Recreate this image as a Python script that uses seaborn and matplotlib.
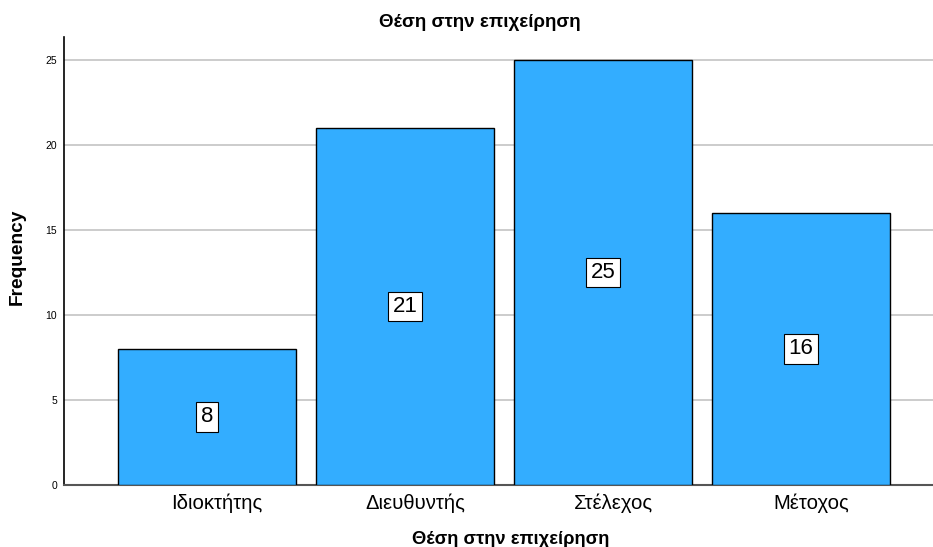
import matplotlib
matplotlib.use("Agg")
import matplotlib.pyplot as plt
import matplotlib.transforms as mtransforms
import seaborn as sns
import pandas as pd

categories = ["Ιδιοκτήτης", "Διευθυντής", "Στέλεχος", "Μέτοχος"]
counts = [8, 21, 25, 16]
y_ticks = [0, 5, 10, 15, 20, 25]

df = pd.DataFrame({"position": categories, "frequency": counts})

sns.set_style("white")
plt.rcParams["font.family"] = ["Liberation Sans", "DejaVu Sans"]
plt.rcParams.update({"text.color": "black", "axes.labelcolor": "black",
                     "xtick.color": "black", "ytick.color": "black"})

fig = plt.figure(figsize=(9.33, 5.47), dpi=100)
ax = fig.add_axes([64 / 933, 62 / 547, 869 / 933, 448 / 547])

sns.barplot(data=df, x="position", y="frequency", order=categories,
            color="#33adff", saturation=1, width=0.9,
            edgecolor="black", linewidth=1.0, ax=ax, zorder=3)

ax.set_ylim(0, 26.35)
ax.set_xlim(-0.722, 3.667)
ax.set_yticks(y_ticks)
ax.yaxis.grid(True, color="#c8c8c8", linewidth=1.3, zorder=0)
ax.set_axisbelow(True)

for spine in ["top", "right"]:
    ax.spines[spine].set_visible(False)
ax.spines["left"].set_color("black")
ax.spines["left"].set_linewidth(1.2)
ax.spines["bottom"].set_color("#555555")
ax.spines["bottom"].set_linewidth(1.5)

ax.tick_params(axis="y", length=0, labelsize=7.5, pad=5)
ax.tick_params(axis="x", length=0, labelsize=14.6, pad=6)

# category labels sit slightly right of the bar centres
shift = mtransforms.ScaledTranslation(10 / 100, 0, fig.dpi_scale_trans)
for lbl in ax.get_xticklabels():
    lbl.set_transform(lbl.get_transform() + shift)

for i, v in enumerate(counts):
    ax.text(i, v / 2, str(v), ha="center", va="center", fontsize=16,
            color="black", zorder=5,
            bbox=dict(boxstyle="square,pad=0.2", facecolor="white",
                      edgecolor="black", linewidth=0.8))

ax.set_title("Θέση στην επιχείρηση", fontsize=13.5, fontweight="bold",
             pad=7, x=0.479)
ax.set_xlabel("Θέση στην επιχείρηση", fontsize=13.2, fontweight="bold",
              labelpad=9)
ax.xaxis.set_label_coords(0.514, -0.102)
ax.set_ylabel("Frequency", fontsize=13.8, fontweight="bold", labelpad=14)
ax.yaxis.label.set_y(0.51)

fig.savefig("out.png", dpi=100)
